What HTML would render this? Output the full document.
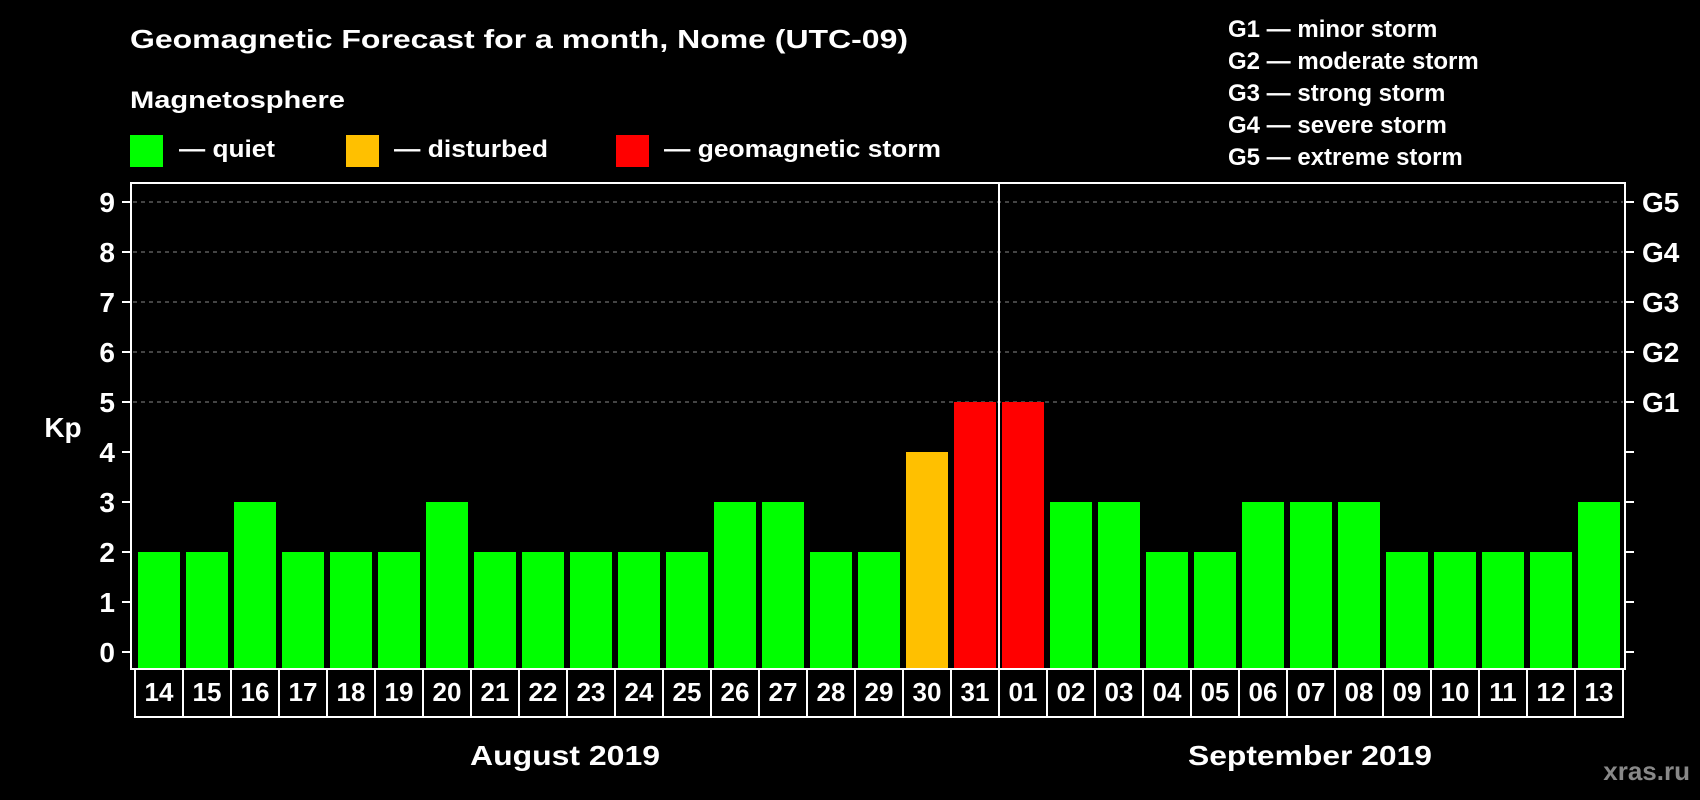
<!DOCTYPE html>
<html><head><meta charset="utf-8"><style>
html,body{margin:0;padding:0;background:#000;width:1700px;height:800px;overflow:hidden}
svg text{font-family:"Liberation Sans",Arial,sans-serif;font-weight:bold;fill:#fff}
</style></head><body>
<svg id="chart" width="1700" height="800" viewBox="0 0 1700 800" xmlns="http://www.w3.org/2000/svg">
<rect x="0" y="0" width="1700" height="800" fill="#000"/>
<text x="130" y="48" font-size="26" textLength="778" lengthAdjust="spacingAndGlyphs">Geomagnetic Forecast for a month, Nome (UTC-09)</text>
<text x="130" y="108" font-size="24" textLength="215" lengthAdjust="spacingAndGlyphs">Magnetosphere</text>
<g>
<rect x="130" y="135" width="33" height="32" fill="#00ff00"/>
<text x="179" y="157" font-size="24" textLength="96" lengthAdjust="spacingAndGlyphs">— quiet</text></g>
<g>
<rect x="346" y="135" width="33" height="32" fill="#ffc000"/>
<text x="394" y="157" font-size="24" textLength="154" lengthAdjust="spacingAndGlyphs">— disturbed</text></g>
<g>
<rect x="616" y="135" width="33" height="32" fill="#ff0000"/>
<text x="664" y="157" font-size="24" textLength="277" lengthAdjust="spacingAndGlyphs">— geomagnetic storm</text></g>
<g font-size="24">
<text x="1228" y="37">G1 — minor storm</text>
<text x="1228" y="69">G2 — moderate storm</text>
<text x="1228" y="101">G3 — strong storm</text>
<text x="1228" y="133">G4 — severe storm</text>
<text x="1228" y="165">G5 — extreme storm</text>
</g>
<g id="grid"></g>
<g id="bars"></g>
<g id="axes"></g>
<text x="63" y="437" font-size="28" text-anchor="middle">Kp</text>
<text x="565" y="765" font-size="28" text-anchor="middle" textLength="190" lengthAdjust="spacingAndGlyphs">August 2019</text>
<text x="1310" y="765" font-size="28" text-anchor="middle" textLength="244" lengthAdjust="spacingAndGlyphs">September 2019</text>
<text x="1690" y="780" font-size="26" text-anchor="end" style="fill:#888">xras.ru</text>
</svg>
<script>
const days = ["14","15","16","17","18","19","20","21","22","23","24","25","26","27","28","29","30","31","01","02","03","04","05","06","07","08","09","10","11","12","13"];
const kpValues = [2,2,3,2,2,2,3,2,2,2,2,2,3,3,2,2,4,5,5,3,3,2,2,3,3,3,2,2,2,2,3];
const yTicks = [0,1,2,3,4,5,6,7,8,9];
const gLabels = ["G1","G2","G3","G4","G5"];
const gLevels = [5,6,7,8,9];

const NS = "http://www.w3.org/2000/svg";
const L = 131, R = 1625, T = 183, B = 669;
const slot0 = 135, slotW = 48;
function yScale(v){ return 652 - v * 50; }
function xScale(i){ return slot0 + i * slotW; }
function mk(tag, attrs, parent){
  const e = document.createElementNS(NS, tag);
  for (const k in attrs) e.setAttribute(k, attrs[k]);
  parent.appendChild(e); return e;
}
function color(v){ return v >= 5 ? "#ff0000" : (v >= 4 ? "#ffc000" : "#00ff00"); }

const grid = document.getElementById("grid");
gLevels.forEach(v => {
  const ln = mk("line", {x1:L+2, x2:R-2, y1:yScale(v), y2:yScale(v), stroke:"#888", "stroke-width":1, "stroke-dasharray":"4 4"}, grid);
  
  
});

const bars = document.getElementById("bars");
kpValues.forEach((v, i) => {
  const r = mk("rect", {x:xScale(i)+3, y:yScale(v), width:42, height:B - yScale(v), fill:color(v)}, bars);
  
  
});

const axes = document.getElementById("axes");
const frame = mk("rect", {x:L, y:T, width:R-L, height:B-T, fill:"none", stroke:"#fff", "stroke-width":2}, axes);


const sepIdx = days.indexOf("01");
const sep = mk("line", {x1:xScale(sepIdx), x2:xScale(sepIdx), y1:T, y2:B, stroke:"#fff", "stroke-width":2}, axes);



yTicks.forEach(v => {
  const y = yScale(v);
  mk("line", {x1:122, x2:L, y1:y, y2:y, stroke:"#fff", "stroke-width":2}, axes);
  mk("line", {x1:R, x2:1634, y1:y, y2:y, stroke:"#fff", "stroke-width":2}, axes);
  const t = mk("text", {x:115, y:y+10, "font-size":28, "text-anchor":"end"}, axes);
  t.textContent = v;
  
  
});
gLabels.forEach((g, i) => {
  const t = mk("text", {x:1642, y:yScale(gLevels[i])+10, "font-size":28}, axes);
  t.textContent = g;
  
  
});

days.forEach((d, i) => {
  const r = mk("rect", {x:xScale(i), y:B, width:slotW, height:48, fill:"none", stroke:"#fff", "stroke-width":2}, axes);
  
  
  const t = mk("text", {x:xScale(i)+slotW/2, y:B+32, "font-size":26, "text-anchor":"middle"}, axes);
  t.textContent = d;
  
  
});
</script>
</body></html>
